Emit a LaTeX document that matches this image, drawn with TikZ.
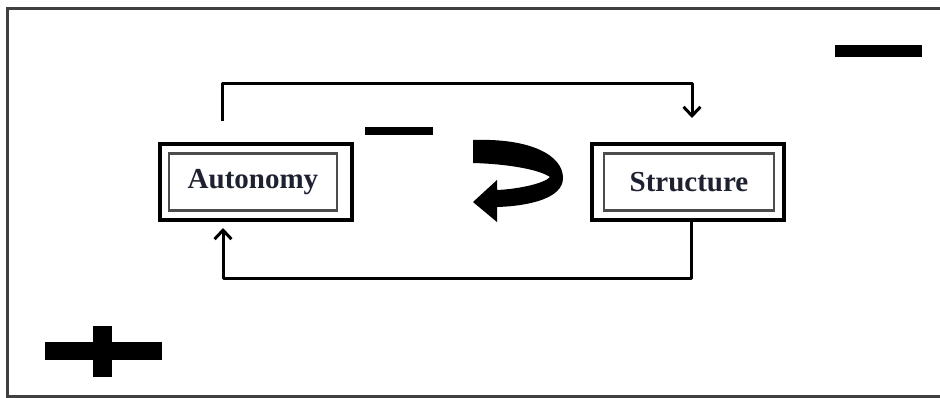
\documentclass[tikz,border=0pt]{standalone}
\usepackage{fontspec}
\setmainfont{Liberation Serif}
\usetikzlibrary{arrows.meta}
\tikzset{>={Straight Barb[length=9pt,width=17pt]}}
\definecolor{inkblue}{HTML}{1E2230}
\tikzset{
  outerbox/.style={draw, line width=3.5pt, minimum width=192pt,
    minimum height=76pt, inner sep=0pt},
  innerbox/.style={draw=black!70, line width=2.5pt, minimum height=57pt,
    inner sep=0pt, text=inkblue,
    font=\fontsize{29}{34}\selectfont\bfseries},
  link/.style={->, line width=3pt, line join=round},
}

\begin{document}
\begin{tikzpicture}[x=1pt, y=-1pt]

  \useasboundingbox (0,0) rectangle (940,397); %% page size

  %% open frame
  \draw[line width=3pt, black!75] (941,8) -- (7,8) -- (7,396) -- (941,396);

  %% the two boxes
  \node[outerbox] (aut) at (256,182) {};
  \node[innerbox, minimum width=168pt] (autin) at (253,182) {Autonomy};
  \node[outerbox] (str) at (688,182) {};
  \node[innerbox, minimum width=170pt] (strin) at (689,182) {Structure};

  %% feedback loop
  \coordinate (topL) at (222,121);
  \coordinate (topR) at (692,118);
  \coordinate (botL) at (223,228);
  \draw[link] (topL) -- ++(0,-38) -| (topR);
  \draw[link] ([xshift=3pt]str.south) -- ++(0,57) -| (botL);

  %% turning arrow
  \fill (473,140) .. controls (530,138) and (563,155) .. (563,178)
    .. controls (563,198) and (530,206) .. (497,207)
    -- (497,222) -- (473,202) -- (497,180) -- (497,190)
    .. controls (520,189) and (545,183) .. (550,177)
    .. controls (540,170) and (510,164) .. (473,163) -- cycle;

  %% signs
  \fill (365,127) rectangle (433,135);
  \fill (835,45) rectangle (922,57);
  \fill (45,342) rectangle (162,360);
  \fill (93,326) rectangle (112,377);

\end{tikzpicture}
\end{document}
